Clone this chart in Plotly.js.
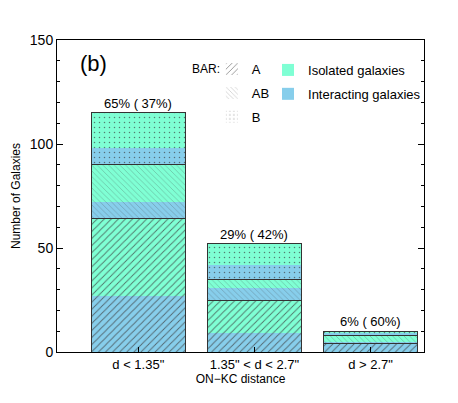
<!DOCTYPE html>
<html>
<head>
<meta charset="utf-8">
<script src="https://cdn.plot.ly/plotly-3.0.1.min.js"></script>
<style>
  html, body { margin: 0; padding: 0; background: #fff; }
  #plot { width: 458px; height: 403px; }
</style>
</head>
<body>
<div id="plot"></div>
<script>
// ── Data (counts) ─────────────────────────────────────────────
var binLabels = ['d < 1.35"', '1.35" < d < 2.7"', 'd > 2.7"'];
var binPos    = [0, 1, 2];

// per bar type, per distance bin
var interA  = [27, 9, 4];
var isoA    = [37, 16, 0];
var interAB = [8, 6, 1];
var isoAB   = [18, 4, 3];
var interB  = [8, 7, 1];
var isoB    = [17, 10, 1];

// ── Styling ───────────────────────────────────────────────────
var ISO   = '#7fffd4';
var INTER = '#87ceeb';
var HATCH = '#3a3a3a';
var FONT  = 'Liberation Sans, Arial, sans-serif';
var BARW  = 0.81;

function patA(bg)  { return { shape: '/',  bgcolor: bg, fgcolor: HATCH, fgopacity: 0.7,  size: 5, solidity: 0.18 }; }
function patAB(bg) { return { shape: '\\', bgcolor: bg, fgcolor: HATCH, fgopacity: 0.4,  size: 4, solidity: 0.15 }; }
function patB(bg)  { return { shape: '.',  bgcolor: bg, fgcolor: HATCH, fgopacity: 0.65, size: 5, solidity: 0.07 }; }

function addArr(a, b) { return a.map(function (v, i) { return v + b[i]; }); }

var totA  = addArr(interA, isoA);
var totAB = addArr(interAB, isoAB);
var totB  = addArr(interB, isoB);
var totals = addArr(addArr(totA, totAB), totB);
var interTot = addArr(addArr(interA, interAB), interB);
var grand = totals.reduce(function (s, v) { return s + v; }, 0);

function seg(y, color, patFn) {
    return { type: 'bar', x: binPos, y: y, width: BARW, xaxis: 'x', yaxis: 'y',
        marker: { color: color, pattern: patFn(color), line: { width: 0 } },
        hoverinfo: 'skip', showlegend: false };
}

function outline(y) {
    return { type: 'bar', x: binPos, y: y, width: BARW, xaxis: 'x2', yaxis: 'y',
        marker: { color: 'rgba(0,0,0,0)', line: { color: '#333', width: 1 } },
        hoverinfo: 'skip', showlegend: false };
}

function legPat(name, patFn) {
    return { type: 'bar', x: [null], y: [null], name: name, legend: 'legend',
        legendgroup: name,
        marker: { color: '#ffffff', pattern: patFn('#ffffff'), line: { width: 0 } } };
}

function legCol(name, color) {
    return { type: 'bar', x: [null], y: [null], name: name, legend: 'legend2',
        legendgroup: name,
        marker: { color: color, line: { width: 0 } } };
}

var traces = [
    seg(interA, INTER, patA),
    seg(isoA, ISO, patA),
    seg(interAB, INTER, patAB),
    seg(isoAB, ISO, patAB),
    seg(interB, INTER, patB),
    seg(isoB, ISO, patB),
    outline(totA),
    outline(totAB),
    outline(totB),
    legPat('A', patA),
    legPat('AB', patAB),
    legPat('B', patB),
    legCol('Isolated galaxies', ISO),
    legCol('Interacting galaxies', INTER)
];

// ── Percentage labels above bars ──────────────────────────────
function pad3(n) { var s = String(n); while (s.length < 3) s = ' ' + s; return s; }

var annotations = binPos.map(function (p, i) {
    var pct  = Math.round(100 * totals[i] / grand);
    var ipct = Math.round(100 * interTot[i] / totals[i]);
    return { x: p, y: totals[i], xref: 'x', yref: 'y', yanchor: 'bottom', yshift: 0,
        text: pct + '% (' + pad3(ipct).replace(/ /g, '&nbsp;') + '%)', showarrow: false,
        font: { size: 13, color: '#000', family: FONT } };
});
annotations.push({ x: 0.1, y: 0.925, xref: 'paper', yref: 'paper', xanchor: 'center',
    yanchor: 'middle', text: '(b)', showarrow: false,
    font: { size: 22, color: '#000', family: FONT } });
annotations.push({ x: 0.362, y: 0.907, xref: 'paper', yref: 'paper', xanchor: 'left',
    yanchor: 'middle', text: 'BAR:', showarrow: false,
    font: { size: 12, color: '#000', family: FONT } });

var layout = {
    width: 458, height: 403,
    margin: { l: 57, r: 34, t: 40, b: 51 },
    paper_bgcolor: '#fff', plot_bgcolor: '#fff',
    barmode: 'stack',
    font: { family: FONT, color: '#000' },
    xaxis: {
        range: [-0.7, 2.46], tickvals: binPos, ticktext: binLabels,
        ticks: 'inside', ticklen: 5, tickcolor: '#000',
        showline: true, linecolor: '#000', linewidth: 1, mirror: true,
        showgrid: false, zeroline: false,
        tickfont: { size: 13, family: FONT },
        title: { text: 'ON\u2212KC distance', font: { size: 12, family: FONT }, standoff: 2 }
    },
    xaxis2: { overlaying: 'x', matches: 'x', visible: false, anchor: 'y' },
    yaxis: {
        range: [0, 150], dtick: 50,
        ticks: 'inside', ticklen: 6, tickcolor: '#000',
        minor: { dtick: 10, ticks: 'inside', ticklen: 3, tickcolor: '#000' },
        showline: true, linecolor: '#000', linewidth: 1, mirror: 'ticks',
        showgrid: false, zeroline: false,
        tickfont: { size: 14, family: FONT },
        title: { text: 'Number of Galaxies', font: { size: 12, family: FONT }, standoff: 6 }
    },
    legend: {
        x: 0.422, y: 0.955, xanchor: 'left', yanchor: 'top',
        bgcolor: 'rgba(0,0,0,0)', borderwidth: 0, tracegroupgap: 4,
        traceorder: 'grouped',
        font: { size: 13, family: FONT }
    },
    legend2: {
        x: 0.575, y: 0.952, xanchor: 'left', yanchor: 'top',
        bgcolor: 'rgba(0,0,0,0)', borderwidth: 0, tracegroupgap: 4,
        traceorder: 'grouped',
        font: { size: 13, family: FONT }
    },
    annotations: annotations,
    showlegend: true
};

Plotly.newPlot('plot', traces, layout, { displayModeBar: false, staticPlot: true });
</script>
</body>
</html>
